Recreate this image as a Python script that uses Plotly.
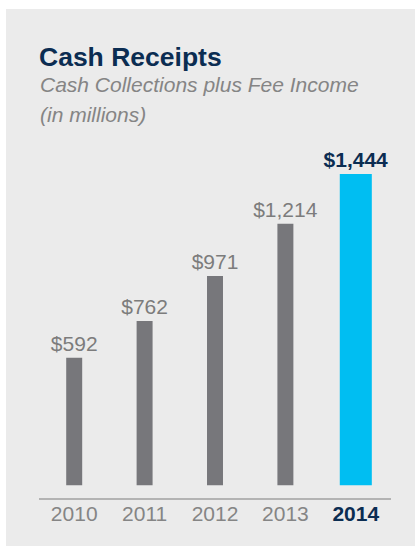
import plotly.graph_objects as go

years = ["2010", "2011", "2012", "2013", "2014"]
values = [592, 762, 971, 1214, 1444]
highlight = [False, False, False, False, True]

title = "Cash Receipts"
subtitle1 = "Cash Collections plus Fee Income"
subtitle2 = "(in millions)"

GRAY_BAR = "#77777b"
BLUE = "#00bef2"
NAVY = "#0b2d52"
LABEL_GRAY = "#7c7c7c"
TICK_GRAY = "#858585"
BG = "#ebebeb"
FONT = "Arial, Liberation Sans, sans-serif"

W, H = 415, 546
L, R, T, B = 39, 24, 140, 48
PW, PH = W - L - R, H - T - B


def px(x):
    return (x - L) / PW


def py(y):
    return (H - B - y) / PH


colors = [BLUE if h else GRAY_BAR for h in highlight]
widths = [0.455 if h else 0.227 for h in highlight]
texts = [("<b>${:,}</b>" if h else "${:,}").format(v) for v, h in zip(values, highlight)]
text_colors = [NAVY if h else LABEL_GRAY for h in highlight]
ticktext = [
    ("<b><span style='color:%s'>%s</span></b>" % (NAVY, y)) if h else y
    for y, h in zip(years, highlight)
]

fig = go.Figure(
    go.Bar(
        x=years,
        y=values,
        width=widths,
        marker=dict(color=colors, line=dict(width=0)),
        text=texts,
        textposition="outside",
        constraintext="none",
        outsidetextfont=dict(family=FONT, size=21, color=text_colors),
        cliponaxis=False,
        hoverinfo="skip",
    )
)

fig.update_layout(
    width=W,
    height=H,
    margin=dict(l=L, r=R, t=T, b=B, pad=0),
    paper_bgcolor=BG,
    plot_bgcolor="rgba(0,0,0,0)",
    showlegend=False,
    font=dict(family=FONT),
    xaxis=dict(
        type="category",
        range=[-0.5, 4.5],
        showline=True,
        linecolor="#b3b3b3",
        linewidth=2,
        showgrid=False,
        zeroline=False,
        ticks="",
        tickmode="array",
        tickvals=years,
        ticktext=ticktext,
        ticklabelstandoff=-4,
        tickfont=dict(family=FONT, size=21, color=TICK_GRAY),
        fixedrange=True,
    ),
    yaxis=dict(
        range=[-59, 1602],
        visible=False,
        showgrid=False,
        zeroline=False,
        fixedrange=True,
    ),
    shapes=[
        dict(type="rect", xref="paper", yref="paper",
             x0=px(0), x1=px(6), y0=py(H), y1=py(0),
             fillcolor="white", line=dict(width=0), layer="below"),
        dict(type="rect", xref="paper", yref="paper",
             x0=px(0), x1=px(W), y0=py(9), y1=py(0),
             fillcolor="white", line=dict(width=0), layer="below"),
    ],
    annotations=[
        dict(text="<b>%s</b>" % title, xref="paper", yref="paper",
             x=px(37), y=py(57), xanchor="left", yanchor="middle",
             showarrow=False, font=dict(family=FONT, size=26.5, color=NAVY)),
        dict(text="<i>%s</i>" % subtitle1, xref="paper", yref="paper",
             x=px(38), y=py(85), xanchor="left", yanchor="middle",
             showarrow=False, font=dict(family=FONT, size=21, color="#858585")),
        dict(text="<i>%s</i>" % subtitle2, xref="paper", yref="paper",
             x=px(38), y=py(114), xanchor="left", yanchor="middle",
             showarrow=False, font=dict(family=FONT, size=21, color="#858585")),
    ],
)

fig.write_html(
    "out.html",
    config=dict(displayModeBar=False),
    post_script="document.body.style.margin='0';document.body.style.overflow='hidden';",
)
